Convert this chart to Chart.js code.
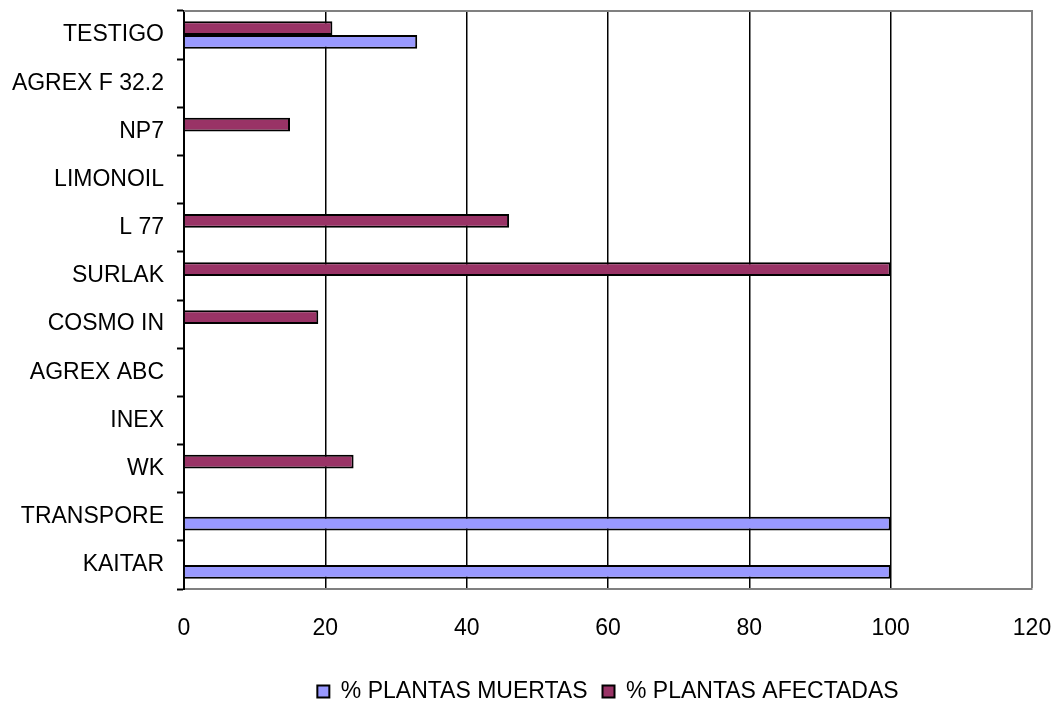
<!DOCTYPE html>
<html>
<head>
<meta charset="utf-8">
<script src="https://cdn.jsdelivr.net/npm/chart.js@4/dist/chart.umd.min.js"></script>
<style>
html,body{margin:0;padding:0;background:#fff;}
#wrap{width:1056px;height:703px;position:relative;}
</style>
</head>
<body>
<div id="wrap"><canvas id="c"></canvas></div>
<script>
const categories = ['TESTIGO','AGREX F 32.2','NP7','LIMONOIL','L 77','SURLAK','COSMO IN','AGREX ABC','INEX','WK','TRANSPORE','KAITAR'];
const muertas   = [33, null, null, null, null, null, null, null, null, null, 100, 100];
const afectadas = [21, null, 15, null, 46, 100, 19, null, null, 24, null, null];
const seriesNames = ['% PLANTAS MUERTAS', '% PLANTAS AFECTADAS'];
const xTicks = [0, 20, 40, 60, 80, 100, 120];

const frameTop = {
  id: 'frameTop',
  afterDatasetsDraw(chart) {
    const {ctx, chartArea: a} = chart;
    ctx.save();
    ctx.strokeStyle = '#808080';
    ctx.lineWidth = 2;
    ctx.beginPath();
    ctx.moveTo(a.left, a.top);
    ctx.lineTo(a.right + 1, a.top);
    ctx.stroke();
    ctx.restore();
  }
};

new Chart(document.getElementById('c'), {
  type: 'bar',
  data: {
    labels: categories,
    datasets: [
      { label: seriesNames[1], data: afectadas, backgroundColor: '#993366', borderColor: '#000', borderWidth: 2 },
      { label: seriesNames[0], data: muertas, backgroundColor: '#9999FF', borderColor: '#000', borderWidth: 2 }
    ]
  },
  options: {
    indexAxis: 'y',
    responsive: true,
    maintainAspectRatio: false,
    animation: false,
    layout: { padding: { top: 11, right: 24, left: 0, bottom: -10 } },
    datasets: { bar: { categoryPercentage: 0.57, barPercentage: 1.0 } },
    scales: {
      x: {
        min: 0, max: 120,
        afterBuildTicks(s) { s.ticks = xTicks.map(v => ({ value: v })); },
        afterFit(s) { s.height = 76; s.paddingLeft = 0; s.paddingRight = 0; },
        border: { display: true, color: '#808080', width: 2 },
        grid: {
          drawTicks: false,
          color: c => (c.tick && c.tick.value === 120) ? '#808080' : (c.tick && c.tick.value === 0 ? 'rgba(0,0,0,0)' : '#000'),
          lineWidth: c => (c.tick && c.tick.value === 120) ? 2 : 1.5
        },
        ticks: { color: '#000', padding: 26, font: { family: '"Liberation Sans", Arial, sans-serif', size: 23 } }
      },
      y: {
        afterFit(s) { s.width = 184; s.paddingTop = 0; s.paddingBottom = 0; },
        border: { display: true, color: '#000', width: 2 },
        grid: { offset: true, drawOnChartArea: false, drawTicks: true, tickLength: 7, color: '#000', tickColor: '#000', tickWidth: 2 },
        ticks: { color: '#000', padding: 13, font: { family: '"Liberation Sans", Arial, sans-serif', size: 23 } }
      }
    },
    plugins: {
      tooltip: { enabled: false },
      legend: {
        position: 'bottom',
        fullSize: false,
        reverse: true,
        labels: {
          color: '#000',
          boxWidth: 12, boxHeight: 12,
          padding: 15,
          font: { family: '"Liberation Sans", Arial, sans-serif', size: 23 }
        }
      }
    }
  },
  plugins: [frameTop]
});
</script>
</body>
</html>
